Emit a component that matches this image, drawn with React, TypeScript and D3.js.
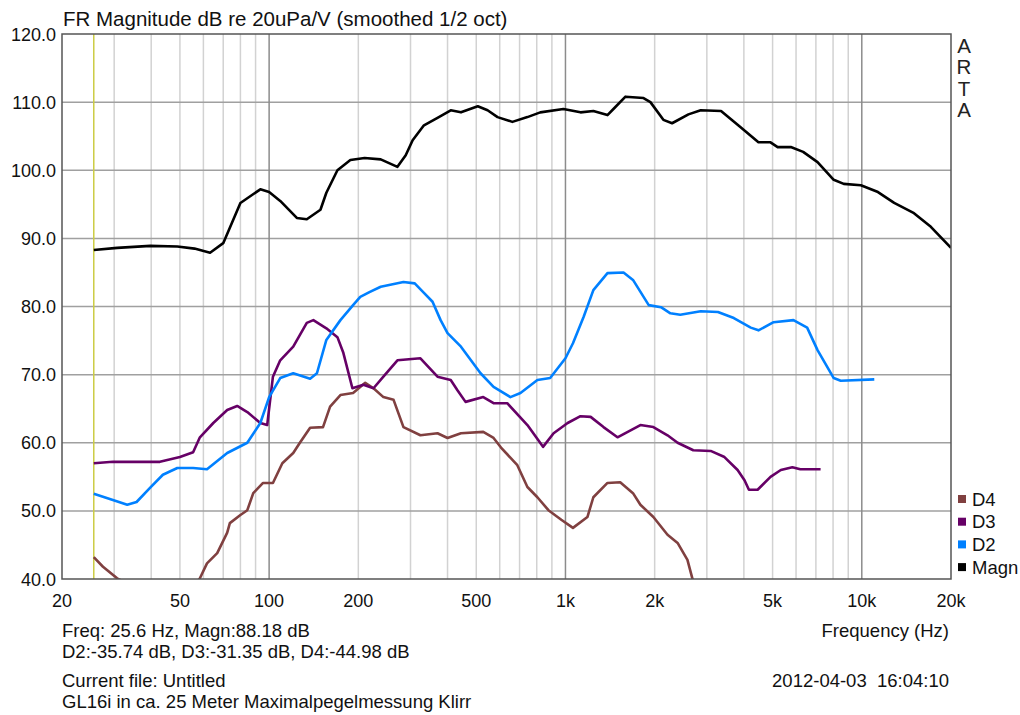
import React from 'react';
import * as d3 from 'd3';

// frequency response data (Hz, dB)
const magnFreq = [25.6, 30.7, 39.7, 49, 56, 63.2, 70, 80, 93.4, 100, 109, 124, 134, 149, 156, 170, 188, 210, 238, 271, 289, 305, 333, 370, 410, 444, 506, 546, 590, 662, 744, 822, 984, 1124, 1242, 1386, 1460, 1594, 1834, 1935, 2140, 2290, 2600, 2860, 3350, 3900, 4480, 4920, 5200, 5760, 6340, 7090, 8040, 8690, 9930, 11340, 12860, 15000, 17100, 20000];
const magnDb = [88.3, 88.6, 88.9, 88.8, 88.5, 87.9, 89.3, 95.2, 97.2, 96.8, 95.5, 93, 92.8, 94.2, 96.7, 100, 101.5, 101.8, 101.6, 100.5, 102.2, 104.4, 106.6, 107.7, 108.8, 108.5, 109.4, 108.8, 107.8, 107.1, 107.8, 108.5, 109, 108.5, 108.7, 108.1, 109.1, 110.8, 110.6, 110, 107.4, 106.9, 108.2, 108.8, 108.7, 106.3, 104.1, 104.1, 103.4, 103.4, 102.7, 101.2, 98.6, 98, 97.8, 96.8, 95.2, 93.7, 91.7, 88.6];

const d2Freq = [25.6, 29.7, 33.2, 35.7, 39.7, 43.8, 49, 55.4, 61.7, 72.2, 84.4, 93.4, 100, 109, 120.6, 137.5, 145, 156, 174, 192, 203, 218, 238, 284, 310, 333, 356, 379, 400, 444, 517, 572, 652, 705, 804, 888, 1000, 1060, 1152, 1242, 1386, 1570, 1690, 1910, 2100, 2260, 2440, 2860, 3270, 3700, 4220, 4480, 5040, 5880, 6540, 7090, 8040, 8490, 11020];
const d2Db = [52.5, 51.6, 50.9, 51.3, 53.4, 55.3, 56.3, 56.3, 56.1, 58.5, 60, 62.9, 66.7, 69.5, 70.2, 69.4, 70.2, 75.1, 78, 80.2, 81.4, 82.1, 82.9, 83.6, 83.4, 82, 80.7, 78, 76.1, 74.1, 70.2, 68.2, 66.7, 67.3, 69.2, 69.5, 72.4, 74.6, 78.5, 82.4, 84.9, 85, 83.9, 80.2, 79.9, 79, 78.8, 79.3, 79.2, 78.3, 76.9, 76.5, 77.7, 78, 76.9, 73.6, 69.5, 69.1, 69.3];

const d3Freq = [25.6, 29.7, 42.8, 50, 55.4, 58.4, 64.8, 72.2, 78, 84.4, 93.4, 98.5, 103, 109, 120.6, 134, 141, 156, 170, 178, 191, 208, 225, 243, 271, 324, 370, 410, 432, 460, 528, 572, 636, 744, 840, 912, 1017, 1124, 1216, 1344, 1498, 1790, 1980, 2210, 2390, 2700, 3090, 3440, 3810, 4020, 4160, 4450, 4920, 5330, 5830, 6200, 7260];
const d3Db = [57, 57.2, 57.2, 57.9, 58.6, 60.8, 62.9, 64.8, 65.4, 64.5, 62.9, 62.6, 69.7, 72.1, 74.1, 77.6, 78, 76.8, 75.5, 73.2, 68, 68.5, 68, 69.7, 72.1, 72.4, 69.7, 69.2, 67.7, 66, 66.7, 65.8, 65.8, 62.6, 59.4, 61.4, 62.9, 63.9, 63.8, 62.3, 60.8, 62.6, 62.3, 61.1, 60, 58.9, 58.8, 57.9, 56, 54.5, 53.1, 53.1, 55, 56, 56.4, 56.1, 56.1];

const d4Freq = [25.6, 27.5, 30.7, 36, 45, 55, 58.4, 61.7, 66.8, 72.2, 73.7, 80, 84.4, 88.4, 95.4, 103, 110.8, 120.6, 127, 137.5, 152, 160.6, 174, 192, 211, 225, 243, 263, 284, 324, 370, 400, 444, 528, 572, 606, 688, 744, 804, 876, 968, 1060, 1186, 1242, 1386, 1530, 1690, 1790, 1980, 2210, 2390, 2580, 2680, 2900];
const d4Db = [43.2, 41.8, 40.1, 38.5, 37, 38.8, 40.1, 42.3, 43.8, 46.8, 48.2, 49.4, 50.1, 52.6, 54.1, 54.1, 57, 58.5, 60, 62.2, 62.3, 65.3, 67, 67.3, 68.8, 68, 66.7, 66.3, 62.3, 61.1, 61.4, 60.7, 61.4, 61.6, 60.7, 59.3, 56.7, 53.5, 52, 50.1, 48.7, 47.5, 49.1, 52, 54.1, 54.2, 52.6, 50.9, 49.1, 46.5, 45.3, 42.8, 40.1, 37];

const xTicks = [20, 50, 100, 200, 500, 1000, 2000, 5000, 10000, 20000];
const xTickLabels = ['20', '50', '100', '200', '500', '1k', '2k', '5k', '10k', '20k'];
const yTicks = [40, 50, 60, 70, 80, 90, 100, 110, 120];
const legendNames = ['D4', 'D3', 'D2', 'Magn'];
const legendColors = ['#804040', '#660066', '#0080ff', '#000000'];
const cursorFreq = 25.6;

const W = 1020;
const H = 715;
const left = 62, right = 951, top = 34, bottom = 579;
const font = 'Liberation Sans, Arial, sans-serif';
const fs = 18.5;

export default function App() {
  const x = d3.scaleLog().domain([20, 20000]).range([left, right]);
  const y = d3.scaleLinear().domain([40, 120]).range([bottom, top]);

  const line = d3.line<[number, number]>().x(d => x(d[0])).y(d => y(d[1]));
  const series = [
    { f: d4Freq, v: d4Db, c: legendColors[0] },
    { f: d3Freq, v: d3Db, c: legendColors[1] },
    { f: d2Freq, v: d2Db, c: legendColors[2] },
    { f: magnFreq, v: magnDb, c: legendColors[3] },
  ];

  // minor grid: every integer multiple inside each decade
  const minor: number[] = [];
  [10, 100, 1000].forEach(dec => {
    for (let k = 2; k <= 9; k++) {
      const f = k * dec;
      if (f > 20 && f < 20000) minor.push(f);
    }
  });
  const major = [100, 1000, 10000];

  return (
    <svg width={W} height={H} style={{ position: 'absolute', left: 0, top: 0, background: '#fff' }}
      fontFamily={font}>
      <defs>
        <clipPath id="plot">
          <rect x={left} y={top} width={right - left} height={bottom - top} />
        </clipPath>
      </defs>
      <rect x={0} y={0} width={W} height={H} fill="#fff" />

      {/* grid */}
      {minor.filter(f => !major.includes(f)).map(f => (
        <line key={'mn' + f} x1={x(f)} x2={x(f)} y1={top} y2={bottom} stroke="#d2d2d2" strokeWidth={1.5} />
      ))}
      {yTicks.slice(1, -1).map(v => (
        <line key={'h' + v} x1={left} x2={right} y1={y(v)} y2={y(v)} stroke="#a0a0a0" strokeWidth={1.5} />
      ))}
      {major.map(f => (
        <line key={'mj' + f} x1={x(f)} x2={x(f)} y1={top} y2={bottom} stroke="#8c8c8c" strokeWidth={1.5} />
      ))}

      {/* cursor */}
      <line x1={x(cursorFreq)} x2={x(cursorFreq)} y1={top} y2={bottom} stroke="#cccc44" strokeWidth={1.5} />

      {/* curves */}
      <g clipPath="url(#plot)">
        {series.map((s, i) => (
          <path key={i} d={line(s.f.map((f, j) => [f, s.v[j]] as [number, number])) || ''}
            fill="none" stroke={s.c} strokeWidth={2.6} strokeLinejoin="round" />
        ))}
      </g>

      {/* frame */}
      <rect x={left} y={top} width={right - left} height={bottom - top} fill="none" stroke="#555" strokeWidth={1.5} />

      {/* title */}
      <text x={63} y={26} fontSize={20.5} fill="#111">FR Magnitude dB re 20uPa/V (smoothed 1/2 oct)</text>

      {/* y axis labels */}
      {yTicks.map(v => (
        <text key={'yl' + v} x={56} y={y(v) + 6.5} fontSize={18} textAnchor="end" fill="#111">{v.toFixed(1)}</text>
      ))}

      {/* x axis labels */}
      {xTicks.map((f, i) => (
        <text key={'xl' + f} x={x(f)} y={607} fontSize={18} textAnchor="middle" fill="#111">{xTickLabels[i]}</text>
      ))}
      <text x={949} y={637} fontSize={fs} textAnchor="end" fill="#111">Frequency (Hz)</text>

      {/* ARTA */}
      {['A', 'R', 'T', 'A'].map((c, i) => (
        <text key={'a' + i} x={964} y={53 + i * 21.4} fontSize={20.5} textAnchor="middle" fill="#222"
          fontWeight={300}>{c}</text>
      ))}

      {/* legend */}
      {legendNames.map((n, i) => (
        <g key={n}>
          <rect x={958} y={495 + i * 22.7} width={8} height={8} fill={legendColors[i]} />
          <text x={972} y={505.5 + i * 22.7} fontSize={fs} fill="#111">{n}</text>
        </g>
      ))}

      {/* info texts */}
      <text x={62} y={637} fontSize={fs} fill="#111">Freq: 25.6 Hz, Magn:88.18 dB</text>
      <text x={62} y={658} fontSize={fs} fill="#111">D2:-35.74 dB, D3:-31.35 dB, D4:-44.98 dB</text>
      <text x={62} y={687} fontSize={fs} fill="#111">Current file: Untitled</text>
      <text x={62} y={708} fontSize={fs} fill="#111">GL16i in ca. 25 Meter Maximalpegelmessung Klirr</text>
      <text x={949} y={687} fontSize={fs} textAnchor="end" fill="#111" style={{ whiteSpace: 'pre' }}>2012-04-03  16:04:10</text>
    </svg>
  );
}
